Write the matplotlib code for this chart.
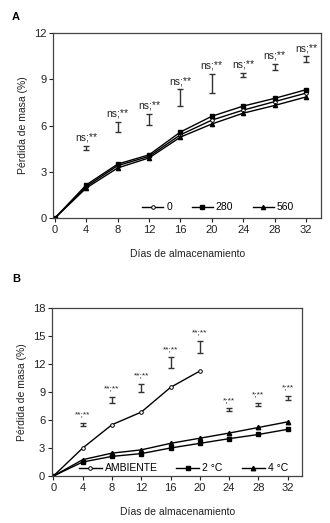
import matplotlib.pyplot as plt
import numpy as np

plt.rcParams['font.family'] = ['Liberation Sans', 'DejaVu Sans']

dias = [0, 4, 8, 12, 16, 20, 24, 28, 32]

# panel A: mass loss by dose
dosis_0 = [0, 2.05, 3.4, 4.0, 5.4, 6.35, 7.0, 7.55, 8.1]
dosis_280 = [0, 2.15, 3.5, 4.1, 5.58, 6.6, 7.26, 7.76, 8.32]
dosis_560 = [0, 1.95, 3.25, 3.9, 5.25, 6.1, 6.8, 7.3, 7.85]
err_a_dias = [4, 8, 12, 16, 20, 24, 28, 32]
err_a_centro = [4.55, 5.9, 6.4, 7.8, 8.75, 9.28, 9.8, 10.3]
err_a_semi = [0.13, 0.35, 0.37, 0.54, 0.62, 0.14, 0.2, 0.19]
sig_a = ['ns;**'] * 8

# panel B: mass loss by storage temperature
dias_amb = [0, 4, 8, 12, 16, 20]
ambiente = [0, 3.0, 5.5, 6.85, 9.5, 11.25]
temp_2 = [0, 1.5, 2.1, 2.4, 3.0, 3.5, 4.0, 4.45, 5.0]
temp_4 = [0, 1.75, 2.45, 2.8, 3.5, 4.05, 4.6, 5.2, 5.8]
err_b_dias = [4, 8, 12, 16, 20, 24, 28, 32]
err_b_centro = [5.55, 8.15, 9.45, 12.15, 13.85, 7.1, 7.65, 8.35]
err_b_semi = [0.15, 0.33, 0.4, 0.58, 0.65, 0.15, 0.18, 0.25]
sig_b = ['**;**'] * 5 + ['*;**'] * 3

fig = plt.figure(figsize=(3.3, 5.23), dpi=100)
ax1 = fig.add_axes([0.1615, 0.583, 0.811, 0.354])
ax2 = fig.add_axes([0.158, 0.0899, 0.758, 0.321])

lw = 1.0
ax1.plot(dias, dosis_0, color='black', lw=lw, marker='o', ms=2.6,
         mfc='white', mec='black', mew=0.7, label='0')
ax1.plot(dias, dosis_280, color='black', lw=lw, marker='s', ms=3.0, label='280')
ax1.plot(dias, dosis_560, color='black', lw=lw, marker='^', ms=3.0, label='560')
ax1.errorbar(err_a_dias, err_a_centro, yerr=err_a_semi, fmt='none',
             ecolor='#333333', elinewidth=1.0, capsize=2.2, capthick=1.0)
for x, c, s, t in zip(err_a_dias, err_a_centro, err_a_semi, sig_a):
    ax1.text(x, c + s + 0.2, t, ha='center', va='bottom', fontsize=7.5,
             color='#222222')

ax2.plot(dias_amb, ambiente, color='black', lw=lw, marker='o', ms=2.6,
         mfc='white', mec='black', mew=0.7, label='AMBIENTE')
ax2.plot(dias, temp_2, color='black', lw=lw, marker='s', ms=3.0, label='2 °C')
ax2.plot(dias, temp_4, color='black', lw=lw, marker='^', ms=3.2, label='4 °C')
ax2.errorbar(err_b_dias, err_b_centro, yerr=err_b_semi, fmt='none',
             ecolor='#333333', elinewidth=1.0, capsize=2.2, capthick=1.0)
for x, c, s, t in zip(err_b_dias, err_b_centro, err_b_semi, sig_b):
    ax2.text(x, c + s + 0.5, t, ha='center', va='bottom', fontsize=6,
             color='#222222')

ax1.set_xlim(-0.2, 33.9)
ax1.set_ylim(0, 12)
ax1.set_yticks([0, 3, 6, 9, 12])
ax2.set_xlim(-0.18, 34.0)
ax2.set_ylim(0, 18)
ax2.set_yticks([0, 3, 6, 9, 12, 15, 18])

for ax in (ax1, ax2):
    ax.set_xticks(dias)
    ax.tick_params(direction='out', length=3, width=0.8, labelsize=8,
                   pad=2, colors='#222222')
    for sp in ax.spines.values():
        sp.set_linewidth(0.9)
        sp.set_color('#444444')
    ax.set_xlabel('Días de almacenamiento', fontsize=7.5, labelpad=10,
                  color='#222222')
    ax.set_ylabel('Pérdida de masa (%)', fontsize=7.5, labelpad=4,
                  color='#222222')

ax1.legend(loc='lower right', ncol=3, frameon=False, fontsize=7.5,
           handlelength=2.0, handletextpad=0.3, columnspacing=1.9,
           bbox_to_anchor=(0.935, -0.02))
ax2.legend(loc='lower right', ncol=3, frameon=False, fontsize=7.5,
           handlelength=2.2, handletextpad=0.3, columnspacing=1.8,
           bbox_to_anchor=(0.98, -0.04))

fig.text(12 / 330, 1 - 17 / 523, 'A', fontsize=8, fontweight='bold', va='center')
fig.text(12 / 330, 1 - 279 / 523, 'B', fontsize=8, fontweight='bold', va='center')

plt.savefig('out.png', dpi=100)
